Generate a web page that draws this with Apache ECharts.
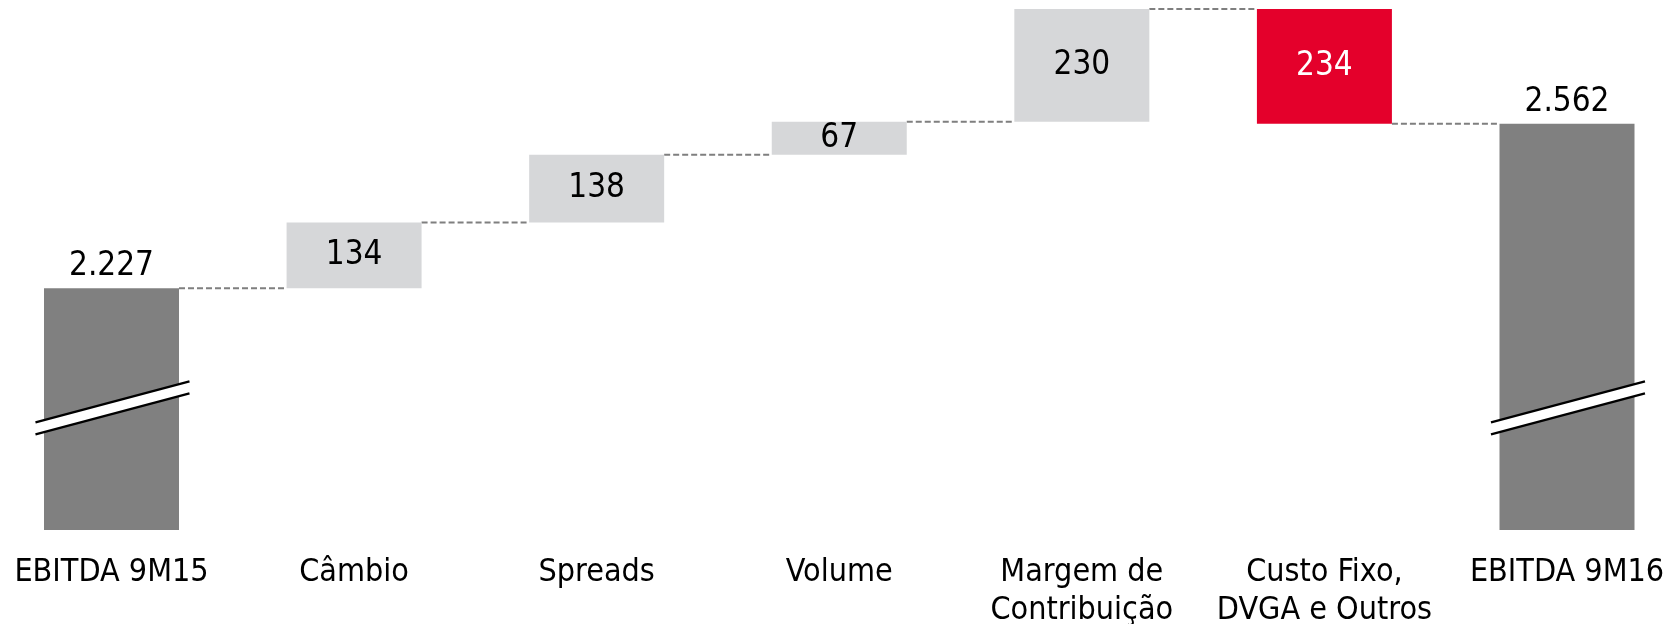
<!DOCTYPE html>
<html><head><meta charset="utf-8">
<script src="https://cdn.jsdelivr.net/npm/echarts@6/dist/echarts.min.js"></script>
<style>html,body{margin:0;padding:0;background:#fff}#c{width:1667px;height:624px}</style>
</head><body><div id="c"></div>
<script>
// ---- data ----
const categories = ['EBITDA 9M15', 'Câmbio', 'Spreads', 'Volume', 'Margem de\nContribuição', 'Custo Fixo,\nDVGA e Outros', 'EBITDA 9M16'];
const values = [2227, 134, 138, 67, 230, -234, 2562];
const kinds = ['total', 'delta', 'delta', 'delta', 'delta', 'delta', 'total'];
const axisMin = 1734;
const axisMax = 2796;
const breakLevel = 1983;

// ---- style ----
const FONT = '"DejaVu Sans Condensed", "DejaVu Sans", sans-serif';
const BAR_W = 135;
const COLORS = { total: '#808080', up: '#d6d7d9', down: '#e4002b' };

function fmt(n) {
  return String(Math.abs(n)).replace(/\B(?=(\d{3})+(?!\d))/g, '.');
}

// build waterfall pieces from the data
const bars = [];
const barKinds = [];
const connectors = [];
let run = 0;
values.forEach((v, i) => {
  if (kinds[i] === 'total') {
    bars.push([i, axisMin, v, v]);
    barKinds.push('total');
    run = v;
  } else {
    const lo = Math.min(run, run + v), hi = Math.max(run, run + v);
    bars.push([i, lo, hi, v]);
    barKinds.push(v >= 0 ? 'up' : 'down');
    run += v;
  }
  if (i < values.length - 1) connectors.push([i, run]);
});
const breaks = [];
kinds.forEach((k, i) => { if (k === 'total') breaks.push([i, breakLevel]); });

function renderBar(params, api) {
  const i = api.value(0);
  const top = api.coord([i, api.value(2)]);
  const bot = api.coord([i, api.value(1)]);
  const k = barKinds[params.dataIndex];
  return {
    type: 'rect',
    shape: { x: top[0] - BAR_W / 2, y: top[1], width: BAR_W, height: bot[1] - top[1] },
    style: { fill: COLORS[k] },
    textContent: {
      style: { text: fmt(api.value(3)), fill: k === 'down' ? '#ffffff' : '#000000', fontSize: 33, fontFamily: FONT }
    },
    textConfig: { position: k === 'total' ? 'top' : 'inside', distance: 5 }
  };
}

function renderConnector(params, api) {
  const i = api.value(0);
  const a = api.coord([i, api.value(1)]);
  const b = api.coord([i + 1, api.value(1)]);
  return {
    type: 'line',
    shape: { x1: a[0] + BAR_W / 2, y1: a[1], x2: b[0] - BAR_W / 2, y2: b[1] },
    style: { stroke: '#7f7f7f', lineWidth: 2, lineDash: [6, 3] }
  };
}

function renderBreak(params, api) {
  const c = api.coord([api.value(0), api.value(1)]);
  const x0 = c[0] - 76, x1 = c[0] + 78, dy = 20.5, g = 6;
  return {
    type: 'group',
    children: [
      { type: 'polygon', shape: { points: [[x0, c[1] - g + dy], [x1, c[1] - g - dy], [x1, c[1] + g - dy], [x0, c[1] + g + dy]] }, style: { fill: '#ffffff' } },
      { type: 'line', shape: { x1: x0, y1: c[1] - g + dy, x2: x1, y2: c[1] - g - dy }, style: { stroke: '#000000', lineWidth: 2.2 } },
      { type: 'line', shape: { x1: x0, y1: c[1] + g + dy, x2: x1, y2: c[1] + g - dy }, style: { stroke: '#000000', lineWidth: 2.2 } }
    ]
  };
}

const chart = echarts.init(document.getElementById('c'));
chart.setOption({
  animation: false,
  backgroundColor: '#ffffff',
  grid: { left: 111.5, right: 100, top: 9, bottom: 94, containLabel: false, outerBoundsMode: 'none' },
  xAxis: {
    type: 'category',
    data: categories,
    boundaryGap: false,
    axisLine: { show: false },
    axisTick: { show: false },
    splitLine: { show: false },
    axisLabel: { interval: 0, margin: 24, fontSize: 32, lineHeight: 38, color: '#000000', fontFamily: FONT }
  },
  yAxis: {
    type: 'value', min: axisMin, max: axisMax, show: false, splitLine: { show: false }
  },
  series: [
    { type: 'custom', name: 'connectors', data: connectors, renderItem: renderConnector, clip: false, z: 1 },
    { type: 'custom', name: 'bars', data: bars, renderItem: renderBar, clip: false, z: 2 },
    { type: 'custom', name: 'breaks', data: breaks, renderItem: renderBreak, clip: false, z: 3 }
  ]
});
</script>
</body></html>
